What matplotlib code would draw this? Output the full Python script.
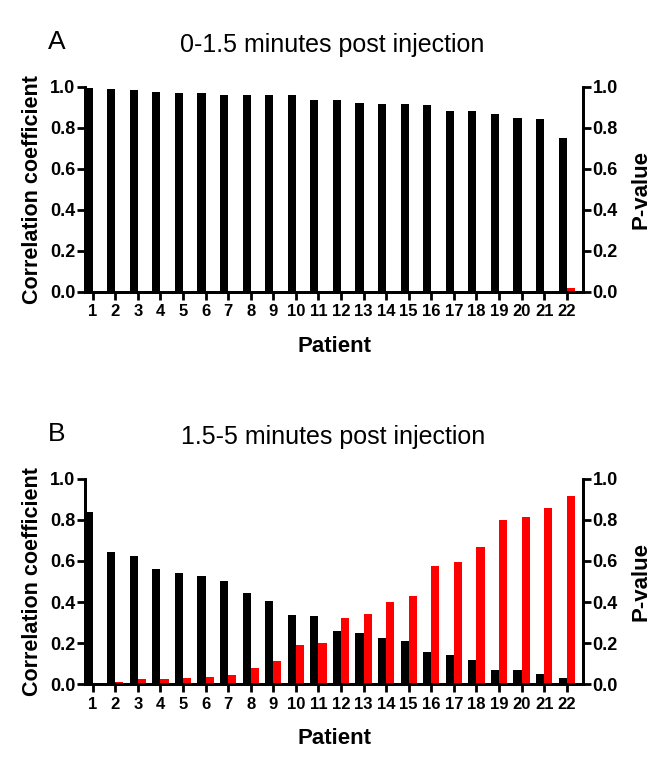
import numpy as np
import matplotlib.pyplot as plt
import matplotlib as mpl

mpl.rcParams["font.family"] = ["Liberation Sans", "DejaVu Sans"]

patients = list(range(1, 23))

# panel A: 0-1.5 minutes
corr_a = [0.997, 0.992, 0.984, 0.977, 0.972, 0.969, 0.963, 0.961, 0.959, 0.959, 0.938,
          0.935, 0.920, 0.919, 0.917, 0.912, 0.885, 0.883, 0.870, 0.851, 0.843, 0.750]
pval_a = [0.0, 0.0, 0.0, 0.0, 0.0, 0.0, 0.0, 0.0, 0.0, 0.0, 0.0,
          0.0, 0.0, 0.0, 0.0, 0.0, 0.0005, 0.001, 0.002, 0.004, 0.006, 0.021]

# panel B: 1.5-5 minutes
corr_b = [0.841, 0.644, 0.625, 0.560, 0.541, 0.528, 0.503, 0.445, 0.406, 0.336, 0.333,
          0.259, 0.250, 0.222, 0.209, 0.156, 0.141, 0.115, 0.070, 0.067, 0.050, 0.031]
pval_b = [0.0, 0.010, 0.026, 0.023, 0.028, 0.032, 0.042, 0.078, 0.110, 0.192, 0.198,
          0.321, 0.343, 0.400, 0.430, 0.576, 0.596, 0.670, 0.800, 0.813, 0.859, 0.917]

fig = plt.figure(figsize=(6.72, 7.67), dpi=100)

width = 0.36


def panel(rect, corr, pval, title, letter, title_y):
    ax = fig.add_axes(rect)
    ax2 = ax.twinx()
    x = np.array(patients)
    ax.bar(x - width / 2, corr, width=width, color="black")
    ax2.bar(x + width / 2, pval, width=width, color="#ff0000")
    yt = np.arange(0, 1.01, 0.2)
    for a in (ax, ax2):
        a.set_ylim(0, 1.0)
        a.set_xlim(0.66, 22.72)
        a.spines["top"].set_visible(False)
        for s in ("left", "right", "bottom"):
            a.spines[s].set_linewidth(2)
        a.tick_params(width=2, length=6)
        a.tick_params(axis="y", labelsize=13, pad=1)
        a.set_yticks(yt)
        a.set_yticklabels([f"{v:.1f}" for v in yt], fontweight="bold")
    ax.set_xticks(patients)
    ax.set_xticklabels([str(p) for p in patients], fontweight="bold")
    ax.tick_params(axis="x", labelsize=12, pad=3)
    ax.set_ylabel("Correlation coefficient", fontsize=15.5, fontweight="bold")
    ax.yaxis.set_label_coords(-0.085, 0.5)
    ax2.set_ylabel("P-value", fontsize=16, fontweight="bold")
    ax2.yaxis.set_label_coords(1.095, 0.5)
    ax.set_xlabel("Patient", fontsize=16, fontweight="bold")
    ax.xaxis.set_label_coords(0.5, -0.215)
    fig.text(0.495, title_y, title, fontsize=18, ha="center", va="center")
    fig.text(0.085, title_y + 0.004, letter, fontsize=19, ha="center", va="center")
    return ax


panel([0.1265, 0.6193, 0.7411, 0.2673], corr_a, pval_a, "0-1.5 minutes post injection", "A", 0.941)
panel([0.1265, 0.1082, 0.7411, 0.2673], corr_b, pval_b, "1.5-5 minutes post injection", "B", 0.430)

fig.savefig("out.png", dpi=100)
